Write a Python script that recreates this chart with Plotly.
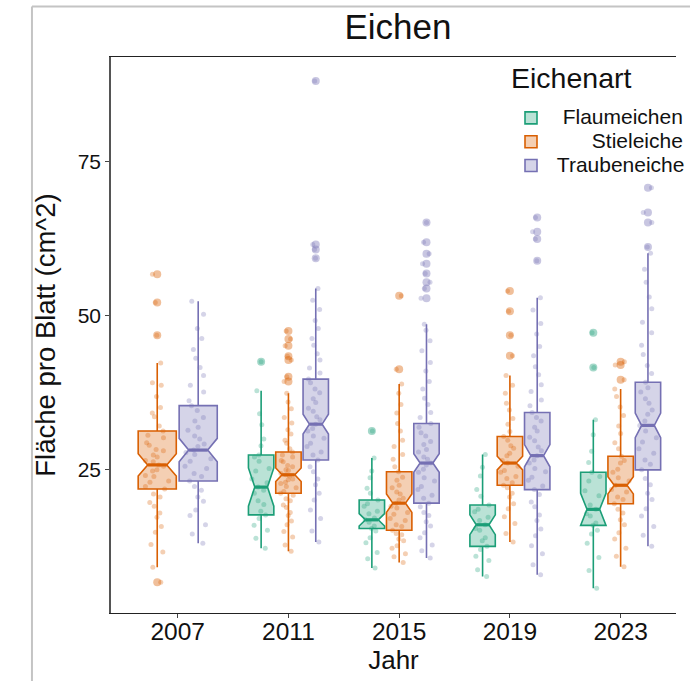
import plotly.graph_objects as go

# Werte aus der Abbildung geschätzt (Fläche pro Blatt in cm^2)
jahre = [2007, 2011, 2015, 2019, 2023]
arten = ["Flaumeichen", "Stieleiche", "Traubeneiche"]
farben = {"Flaumeichen": (27, 158, 119), "Stieleiche": (217, 95, 2), "Traubeneiche": (117, 112, 179)}

# Flaumeichen (2007 nicht erhoben)
flaum_jahre = [2011, 2015, 2019, 2023]
flaum_q1 = [17.7, 15.5, 12.6, 16.0]
flaum_median = [22.2, 16.9, 16.1, 18.6]
flaum_q3 = [27.4, 20.1, 19.3, 24.6]
flaum_unten = [12.3, 9.1, 7.7, 5.8]
flaum_oben = [37.8, 26.9, 27.5, 33.1]
flaum_kerbe = [3.1, 1.0, 1.6, 2.6]
flaum_ausreisser = [[42.5], [31.3], [], [47.2, 41.6]]
flaum_werte = [
    [12.3, 13.9, 15.2, 16.0, 17.1, 17.7, 18.3, 19.4, 20.0, 21.2, 21.7, 22.2, 22.9, 23.5, 24.8, 25.2, 26.4, 27.1, 27.4, 28.9, 30.0, 32.3, 34.1, 37.8],
    [9.1, 10.6, 11.6, 13.2, 14.0, 15.1, 15.5, 15.9, 16.5, 16.9, 17.2, 17.9, 18.3, 19.1, 19.5, 20.1, 21.2, 22.0, 23.7, 24.8, 26.9],
    [7.7, 8.8, 10.3, 11.0, 12.1, 12.6, 13.5, 14.0, 15.2, 15.5, 16.1, 16.8, 17.3, 18.2, 18.6, 19.3, 20.7, 21.8, 24.0, 25.4, 27.5],
    [5.8, 8.7, 10.8, 13.1, 14.6, 15.2, 16.0, 16.4, 17.5, 17.9, 18.6, 19.3, 20.8, 21.6, 23.2, 23.9, 24.6, 26.2, 28.0, 30.7, 33.1],
]

# Stieleiche
stiel_jahre = [2007, 2011, 2015, 2019, 2023]
stiel_q1 = [21.9, 21.2, 15.2, 22.5, 19.5]
stiel_median = [25.8, 24.2, 19.6, 26.1, 22.5]
stiel_q3 = [31.3, 27.9, 24.7, 30.4, 27.2]
stiel_unten = [9.2, 11.8, 10.0, 13.3, 9.3]
stiel_oben = [42.3, 37.4, 38.9, 40.3, 38.1]
stiel_kerbe = [1.8, 1.1, 1.5, 1.1, 1.4]
stiel_ausreisser = [[56.7, 52.1, 46.8, 6.8], [47.5, 46.2, 45.1, 43.4, 42.8, 40.1, 39.3], [53.2, 41.3], [54.0, 50.7, 46.8, 43.5], [42.5, 42.0, 39.6]]
stiel_werte = [
    [9.2, 11.7, 12.9, 14.9, 15.8, 17.3, 18.0, 19.1, 19.7, 20.6, 21.1, 21.9, 22.3, 23.0, 23.2, 23.9, 24.1, 24.8, 25.0, 25.6, 25.8, 26.3, 26.5, 27.1, 27.4, 28.1, 28.3, 29.0, 29.4, 30.2, 30.6, 31.3, 32.1, 33.6, 34.2, 35.1, 36.9, 38.7, 39.1, 42.3],
    [11.8, 12.8, 14.1, 15.0, 16.1, 16.7, 17.6, 18.1, 18.9, 19.3, 20.0, 20.3, 20.9, 21.2, 21.5, 22.1, 22.3, 22.8, 23.0, 23.4, 23.5, 24.0, 24.2, 24.4, 24.9, 25.0, 25.5, 25.7, 26.3, 26.5, 27.1, 27.4, 27.9, 28.4, 29.3, 29.8, 30.8, 31.5, 32.6, 33.5, 34.9, 36.0, 37.4],
    [10.0, 10.9, 11.4, 12.3, 12.7, 13.5, 13.8, 14.5, 14.7, 15.2, 15.8, 16.1, 16.8, 17.1, 17.8, 18.1, 18.8, 19.1, 19.6, 20.1, 20.4, 21.1, 21.4, 22.1, 22.5, 23.3, 23.8, 24.7, 25.5, 26.7, 27.5, 28.8, 29.8, 31.3, 32.5, 34.2, 35.6, 37.4, 38.9],
    [13.3, 14.7, 16.3, 17.4, 18.7, 19.5, 20.6, 21.2, 22.1, 22.5, 22.9, 23.6, 23.9, 24.6, 24.9, 25.6, 26.1, 26.5, 27.3, 27.7, 28.5, 28.9, 29.8, 30.4, 31.2, 32.4, 33.3, 34.7, 35.8, 37.4, 38.7, 40.3],
    [9.3, 11.0, 12.3, 13.8, 14.8, 16.1, 16.9, 18.0, 18.6, 19.5, 20.2, 20.6, 21.4, 21.8, 22.5, 23.2, 23.7, 24.6, 25.1, 26.1, 26.5, 27.2, 28.4, 29.4, 30.9, 32.1, 33.8, 35.2, 36.9, 38.1],
]

# Traubeneiche
trauben_jahre = [2007, 2011, 2015, 2019, 2023]
trauben_q1 = [23.2, 26.6, 19.6, 21.8, 25.0]
trauben_median = [28.2, 32.4, 26.1, 27.3, 32.2]
trauben_q3 = [35.4, 39.7, 32.5, 34.3, 39.2]
trauben_unten = [13.1, 13.3, 10.7, 8.0, 12.6]
trauben_oben = [52.3, 54.4, 48.6, 52.9, 60.1]
trauben_kerbe = [1.9, 1.6, 1.5, 1.8, 2.0]
trauben_ausreisser = [[], [88.0, 61.5, 60.7, 59.3], [65.1, 61.9, 60.0, 58.4, 56.8, 55.4, 54.4, 52.8], [65.9, 63.6, 62.4, 58.9], [70.7, 66.7, 65.1, 61.1]]
trauben_werte = [
    [13.1, 14.6, 16.1, 17.6, 18.5, 19.9, 20.6, 21.7, 22.3, 23.2, 23.9, 24.4, 25.2, 25.6, 26.4, 26.8, 27.5, 27.8, 28.2, 28.8, 29.2, 30.0, 30.5, 31.4, 31.9, 32.9, 33.5, 34.6, 35.4, 36.2, 37.6, 38.7, 40.3, 41.6, 43.1, 44.5, 46.3, 47.9, 50.2, 52.3],
    [13.3, 15.1, 17.1, 18.5, 20.1, 21.2, 22.6, 23.5, 24.7, 25.5, 26.6, 27.4, 27.9, 28.8, 29.3, 30.1, 30.5, 31.3, 31.7, 32.4, 33.1, 33.6, 34.5, 35.0, 35.9, 36.5, 37.5, 38.1, 39.1, 39.7, 40.7, 41.5, 42.8, 43.8, 45.2, 46.3, 47.9, 49.2, 51.0, 52.5, 54.4],
    [10.7, 11.9, 12.8, 14.0, 14.8, 15.9, 16.6, 17.6, 18.1, 19.0, 19.6, 20.4, 20.9, 21.8, 22.3, 23.2, 23.7, 24.6, 25.1, 25.8, 26.1, 26.7, 27.1, 27.9, 28.3, 29.1, 29.6, 30.5, 31.0, 31.9, 32.5, 33.5, 34.3, 35.6, 36.6, 38.1, 39.3, 41.0, 42.4, 44.3, 45.9, 47.6, 48.6],
    [8.0, 9.6, 11.4, 12.7, 14.3, 15.4, 16.8, 17.7, 19.0, 19.8, 21.0, 21.8, 22.4, 23.3, 23.8, 24.7, 25.2, 26.1, 26.6, 27.3, 28.1, 28.7, 29.7, 30.3, 31.3, 31.9, 32.9, 33.5, 34.3, 35.4, 36.3, 37.7, 38.8, 40.4, 41.7, 43.5, 45.0, 47.0, 48.7, 50.9, 52.9],
    [12.6, 14.4, 15.8, 17.5, 18.7, 20.2, 21.2, 22.6, 23.6, 25.0, 25.9, 26.6, 27.7, 28.4, 29.5, 30.2, 31.3, 32.2, 32.9, 34.0, 34.7, 35.8, 36.5, 37.6, 38.3, 39.2, 40.6, 41.9, 43.7, 45.2, 47.2, 48.9, 51.1, 53.0, 55.4, 57.5, 60.1],
]

daten = {
    "Flaumeichen": (flaum_jahre, flaum_q1, flaum_median, flaum_q3, flaum_unten, flaum_oben, flaum_kerbe, flaum_ausreisser, flaum_werte),
    "Stieleiche": (stiel_jahre, stiel_q1, stiel_median, stiel_q3, stiel_unten, stiel_oben, stiel_kerbe, stiel_ausreisser, stiel_werte),
    "Traubeneiche": (trauben_jahre, trauben_q1, trauben_median, trauben_q3, trauben_unten, trauben_oben, trauben_kerbe, trauben_ausreisser, trauben_werte),
}

# Legendentext rechtsbündig wie im Original (mit geschützten Leerzeichen aufgefüllt)
legenden_namen = {
    "Flaumeichen": "\u00a0\u00a0" + "Flaumeichen",
    "Stieleiche": "\u00a0" * 7 + "Stieleiche",
    "Traubeneiche": "\u00a0" + "Traubeneiche",
}

DODGE = 2.96  # Gesamtbreite einer Jahresgruppe (in Jahren)


def rgba(c, a):
    return "rgba(%d,%d,%d,%s)" % (c[0], c[1], c[2], a)


def position(art, jahr):
    gruppe = [a for a in arten if jahr in daten[a][0]]
    n = len(gruppe)
    slot = DODGE / n
    return jahr - DODGE / 2 + slot * (gruppe.index(art) + 0.5), slot


fig = go.Figure()

# Boxen (vorberechnete Kennwerte, gekerbt)
for art in arten:
    jj, q1, med, q3, lo, hi, kerbe, aus, werte = daten[art]
    c = farben[art]
    for i, jahr in enumerate(jj):
        xpos, slot = position(art, jahr)
        fig.add_trace(go.Box(
            x=[xpos], q1=[q1[i]], median=[med[i]], q3=[q3[i]],
            lowerfence=[lo[i]], upperfence=[hi[i]], notchspan=[kerbe[i]],
            orientation="v", notched=True, notchwidth=0.25, width=slot * 0.93,
            fillcolor=rgba(c, 0.3), line=dict(color=rgba(c, 1), width=1.6),
            whiskerwidth=0, boxpoints=False,
            name='<span style="font-size:21px">%s</span>' % legenden_namen[art],
            legendgroup=art, showlegend=(i == 0), hoverinfo="skip",
        ))

# Einzelwerte mit Jitter
for art in arten:
    jj, q1, med, q3, lo, hi, kerbe, aus, werte = daten[art]
    c = farben[art]
    for i, jahr in enumerate(jj):
        xpos, slot = position(art, jahr)
        y = werte[i] + aus[i]
        fig.add_trace(go.Box(
            x=[xpos] * len(y), y=y, width=slot * 0.93,
            boxpoints="all", jitter=0.75, pointpos=0,
            fillcolor="rgba(0,0,0,0)", line=dict(width=0, color="rgba(0,0,0,0)"),
            marker=dict(size=5, color=rgba(c, 0.3)),
            showlegend=False, legendgroup=art, hoverinfo="y",
        ))

# Median als dickere Linie (wie bei ggplot)
for art in arten:
    jj, q1, med, q3, lo, hi, kerbe, aus, werte = daten[art]
    c = farben[art]
    for i, jahr in enumerate(jj):
        xpos, slot = position(art, jahr)
        halb = slot * 0.93 * 0.25
        fig.add_trace(go.Scatter(
            x=[xpos - halb, xpos + halb], y=[med[i], med[i]], mode="lines",
            line=dict(color=rgba(c, 1), width=3.2),
            showlegend=False, legendgroup=art, hoverinfo="skip",
        ))

# Ausreißer (größere Punkte in der Boxmitte)
for art in arten:
    jj, q1, med, q3, lo, hi, kerbe, aus, werte = daten[art]
    c = farben[art]
    for i, jahr in enumerate(jj):
        if not aus[i]:
            continue
        xpos, slot = position(art, jahr)
        fig.add_trace(go.Scatter(
            x=[xpos] * len(aus[i]), y=aus[i], mode="markers",
            marker=dict(size=8, color=rgba(c, 0.4)),
            showlegend=False, legendgroup=art, hoverinfo="y",
        ))

schrift = "Liberation Sans, Arial, sans-serif"

# grauer Rahmen um die Grafik (wie im Original-Screenshot)
rahmen = dict(type="line", xref="paper", yref="paper", line=dict(color="#c4c4c4", width=2))

fig.update_layout(
    width=690, height=681,
    margin=dict(l=111, r=0, t=57, b=68),
    paper_bgcolor="white", plot_bgcolor="white",
    boxmode="overlay",
    font=dict(family=schrift, color="#111111"),
    title=dict(text="Eichen", x=0.508, xref="paper", xanchor="center",
               y=1 - 27 / 681, yref="container", yanchor="middle",
               font=dict(size=35, color="#111111")),
    xaxis=dict(
        title=dict(text="Jahr", font=dict(size=26), standoff=0),
        range=[2004.59, 2025.0], tickvals=jahre, ticktext=[str(j) for j in jahre],
        tickfont=dict(size=24.5), showgrid=False, zeroline=False,
        showline=True, mirror=True, linecolor="#222222", linewidth=1.3,
        ticks="outside", ticklen=4, tickcolor="#444444", ticklabelstandoff=-8,
    ),
    yaxis=dict(
        title=dict(text="Fläche pro Blatt (cm^2)", font=dict(size=27.5), standoff=14),
        range=[1.8, 91.9], tickvals=[25, 50, 75],
        tickfont=dict(size=21), showgrid=False, zeroline=False,
        showline=True, linecolor="#555555", linewidth=1.5,
        ticks="outside", ticklen=4, tickcolor="#444444",
    ),
    legend=dict(
        x=(521 - 111) / 579, y=(613.3 - 101) / 556.3, xanchor="left", yanchor="top",
        bgcolor="rgba(0,0,0,0)", font=dict(size=16, color="#111111"),
        tracegroupgap=0, itemclick=False,
    ),
    annotations=[
        dict(text="Eichenart", xref="paper", yref="paper",
             x=(519 - 111) / 579, y=(613.3 - 78) / 556.3, xanchor="left", yanchor="middle",
             showarrow=False, font=dict(size=28.5, color="#111111")),
    ],
    shapes=[
        dict(rahmen, x0=(30 - 111) / 579, x1=(30 - 111) / 579, y0=-0.14, y1=(613.3 - 6.5) / 556.3),
        dict(rahmen, x0=(30 - 111) / 579, x1=1.05, y0=(613.3 - 6.5) / 556.3, y1=(613.3 - 6.5) / 556.3),
    ],
)

# Seitenrand des Browsers entfernen, damit die Grafik bei (0,0) beginnt
fig.write_html("out.html", config={"displayModeBar": False},
               post_script="document.body.style.margin='0px';")
